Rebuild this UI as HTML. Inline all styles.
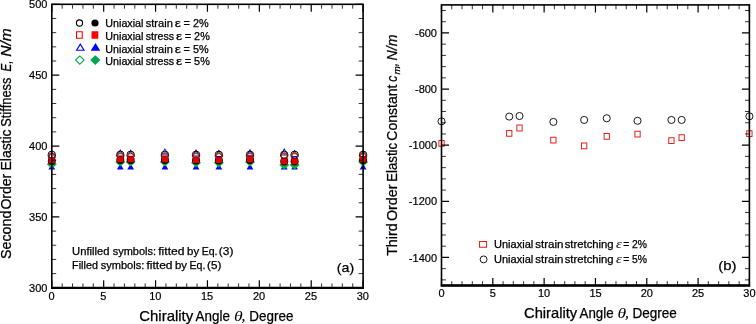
<!DOCTYPE html>
<html><head><meta charset="utf-8"><title>Figure</title>
<style>html,body{margin:0;padding:0;background:#fff}svg{display:block;will-change:transform}</style></head>
<body>
<svg width="756" height="324" viewBox="0 0 756 324" font-family='"Liberation Sans", Arial, sans-serif' fill="#000">
<rect width="756" height="324" fill="#fff"/>
<path d="M51.80 150.70L55.90 158.10L47.70 158.10ZM51.80 152.56L54.37 157.20L49.23 157.20Z" fill="#00f" fill-rule="evenodd"/>
<path d="M51.80 151.50L56.30 156.00L51.80 160.50L47.30 156.00ZM51.80 152.91L54.89 156.00L51.80 159.09L48.71 156.00Z" fill="#00b43c" fill-rule="evenodd"/>
<circle cx="51.80" cy="154.80" r="3.70" fill="none" stroke="#000" stroke-width="1.0"/>
<path d="M48.50 153.30L55.10 153.30L55.10 159.90L48.50 159.90ZM49.40 154.20L54.20 154.20L54.20 159.00L49.40 159.00Z" fill="#f00" fill-rule="evenodd"/>
<path d="M51.80 163.40L55.20 169.60L48.40 169.60Z" fill="#00f"/>
<path d="M51.80 159.60L56.80 164.20L51.80 168.80L46.80 164.20Z" fill="#00b43c"/>
<circle cx="51.80" cy="161.10" r="4.00" fill="#000"/>
<path d="M48.60 157.40L55.00 157.40L55.00 163.40L48.60 163.40Z" fill="#e00000"/>
<path d="M120.29 148.90L124.39 156.30L116.19 156.30ZM120.29 150.76L122.86 155.40L117.71 155.40Z" fill="#00f" fill-rule="evenodd"/>
<path d="M120.29 151.50L124.79 156.00L120.29 160.50L115.79 156.00ZM120.29 152.91L123.37 156.00L120.29 159.09L117.20 156.00Z" fill="#00b43c" fill-rule="evenodd"/>
<circle cx="120.29" cy="154.80" r="3.70" fill="none" stroke="#000" stroke-width="1.0"/>
<path d="M116.99 153.30L123.59 153.30L123.59 159.90L116.99 159.90ZM117.89 154.20L122.69 154.20L122.69 159.00L117.89 159.00Z" fill="#f00" fill-rule="evenodd"/>
<path d="M120.29 163.40L123.69 169.60L116.89 169.60Z" fill="#00f"/>
<path d="M120.29 157.40L125.29 162.00L120.29 166.60L115.29 162.00Z" fill="#00b43c"/>
<circle cx="120.29" cy="160.10" r="4.00" fill="#000"/>
<path d="M117.09 156.40L123.49 156.40L123.49 162.40L117.09 162.40Z" fill="#e00000"/>
<path d="M130.66 149.30L134.76 156.70L126.56 156.70ZM130.66 151.16L133.24 155.80L128.09 155.80Z" fill="#00f" fill-rule="evenodd"/>
<path d="M130.66 151.50L135.16 156.00L130.66 160.50L126.16 156.00ZM130.66 152.91L133.75 156.00L130.66 159.09L127.58 156.00Z" fill="#00b43c" fill-rule="evenodd"/>
<circle cx="130.66" cy="154.80" r="3.70" fill="none" stroke="#000" stroke-width="1.0"/>
<path d="M127.36 153.30L133.96 153.30L133.96 159.90L127.36 159.90ZM128.26 154.20L133.06 154.20L133.06 159.00L128.26 159.00Z" fill="#f00" fill-rule="evenodd"/>
<path d="M130.66 163.40L134.06 169.60L127.26 169.60Z" fill="#00f"/>
<path d="M130.66 157.40L135.66 162.00L130.66 166.60L125.66 162.00Z" fill="#00b43c"/>
<circle cx="130.66" cy="160.10" r="4.00" fill="#000"/>
<path d="M127.46 156.40L133.86 156.40L133.86 162.40L127.46 162.40Z" fill="#e00000"/>
<path d="M164.91 148.00L169.01 155.40L160.81 155.40ZM164.91 149.86L167.48 154.50L162.33 154.50Z" fill="#00f" fill-rule="evenodd"/>
<path d="M164.91 151.50L169.41 156.00L164.91 160.50L160.41 156.00ZM164.91 152.91L167.99 156.00L164.91 159.09L161.82 156.00Z" fill="#00b43c" fill-rule="evenodd"/>
<circle cx="164.91" cy="154.80" r="3.70" fill="none" stroke="#000" stroke-width="1.0"/>
<path d="M161.61 153.30L168.21 153.30L168.21 159.90L161.61 159.90ZM162.51 154.20L167.31 154.20L167.31 159.00L162.51 159.00Z" fill="#f00" fill-rule="evenodd"/>
<path d="M164.91 163.40L168.31 169.60L161.51 169.60Z" fill="#00f"/>
<path d="M164.91 157.40L169.91 162.00L164.91 166.60L159.91 162.00Z" fill="#00b43c"/>
<circle cx="164.91" cy="160.10" r="4.00" fill="#000"/>
<path d="M161.71 156.40L168.11 156.40L168.11 162.40L161.71 162.40Z" fill="#e00000"/>
<path d="M196.04 149.10L200.14 156.50L191.94 156.50ZM196.04 150.96L198.61 155.60L193.46 155.60Z" fill="#00f" fill-rule="evenodd"/>
<path d="M196.04 151.50L200.54 156.00L196.04 160.50L191.54 156.00ZM196.04 152.91L199.12 156.00L196.04 159.09L192.95 156.00Z" fill="#00b43c" fill-rule="evenodd"/>
<circle cx="196.04" cy="154.80" r="3.70" fill="none" stroke="#000" stroke-width="1.0"/>
<path d="M192.74 153.30L199.34 153.30L199.34 159.90L192.74 159.90ZM193.64 154.20L198.44 154.20L198.44 159.00L193.64 159.00Z" fill="#f00" fill-rule="evenodd"/>
<path d="M196.04 163.40L199.44 169.60L192.64 169.60Z" fill="#00f"/>
<path d="M196.04 158.20L201.04 162.80L196.04 167.40L191.04 162.80Z" fill="#00b43c"/>
<circle cx="196.04" cy="160.60" r="4.00" fill="#000"/>
<path d="M192.84 157.20L199.24 157.20L199.24 163.20L192.84 163.20Z" fill="#e00000"/>
<path d="M218.86 149.60L222.96 157.00L214.76 157.00ZM218.86 151.46L221.44 156.10L216.29 156.10Z" fill="#00f" fill-rule="evenodd"/>
<path d="M218.86 151.50L223.36 156.00L218.86 160.50L214.36 156.00ZM218.86 152.91L221.95 156.00L218.86 159.09L215.78 156.00Z" fill="#00b43c" fill-rule="evenodd"/>
<circle cx="218.86" cy="154.80" r="3.70" fill="none" stroke="#000" stroke-width="1.0"/>
<path d="M215.56 153.30L222.16 153.30L222.16 159.90L215.56 159.90ZM216.46 154.20L221.26 154.20L221.26 159.00L216.46 159.00Z" fill="#f00" fill-rule="evenodd"/>
<path d="M218.86 163.40L222.26 169.60L215.46 169.60Z" fill="#00f"/>
<path d="M218.86 158.20L223.86 162.80L218.86 167.40L213.86 162.80Z" fill="#00b43c"/>
<circle cx="218.86" cy="160.60" r="4.00" fill="#000"/>
<path d="M215.66 157.20L222.06 157.20L222.06 163.20L215.66 163.20Z" fill="#e00000"/>
<path d="M249.99 148.80L254.09 156.20L245.89 156.20ZM249.99 150.66L252.57 155.30L247.42 155.30Z" fill="#00f" fill-rule="evenodd"/>
<path d="M249.99 151.50L254.49 156.00L249.99 160.50L245.49 156.00ZM249.99 152.91L253.08 156.00L249.99 159.09L246.91 156.00Z" fill="#00b43c" fill-rule="evenodd"/>
<circle cx="249.99" cy="154.80" r="3.70" fill="none" stroke="#000" stroke-width="1.0"/>
<path d="M246.69 153.30L253.29 153.30L253.29 159.90L246.69 159.90ZM247.59 154.20L252.39 154.20L252.39 159.00L247.59 159.00Z" fill="#f00" fill-rule="evenodd"/>
<path d="M249.99 163.40L253.39 169.60L246.59 169.60Z" fill="#00f"/>
<path d="M249.99 157.40L254.99 162.00L249.99 166.60L244.99 162.00Z" fill="#00b43c"/>
<circle cx="249.99" cy="160.10" r="4.00" fill="#000"/>
<path d="M246.79 156.40L253.19 156.40L253.19 162.40L246.79 162.40Z" fill="#e00000"/>
<path d="M284.24 148.10L288.34 155.50L280.14 155.50ZM284.24 149.96L286.81 154.60L281.66 154.60Z" fill="#00f" fill-rule="evenodd"/>
<path d="M284.24 151.50L288.74 156.00L284.24 160.50L279.74 156.00ZM284.24 152.91L287.32 156.00L284.24 159.09L281.15 156.00Z" fill="#00b43c" fill-rule="evenodd"/>
<circle cx="284.24" cy="154.80" r="3.70" fill="none" stroke="#000" stroke-width="1.0"/>
<path d="M280.94 153.30L287.54 153.30L287.54 159.90L280.94 159.90ZM281.84 154.20L286.64 154.20L286.64 159.00L281.84 159.00Z" fill="#f00" fill-rule="evenodd"/>
<path d="M284.24 163.40L287.64 169.60L280.84 169.60Z" fill="#00f"/>
<path d="M284.24 160.30L289.24 164.90L284.24 169.50L279.24 164.90Z" fill="#00b43c"/>
<circle cx="284.24" cy="161.60" r="4.00" fill="#000"/>
<path d="M281.04 158.40L287.44 158.40L287.44 164.40L281.04 164.40Z" fill="#e00000"/>
<path d="M294.61 149.50L298.71 156.90L290.51 156.90ZM294.61 151.36L297.19 156.00L292.04 156.00Z" fill="#00f" fill-rule="evenodd"/>
<path d="M294.61 151.50L299.11 156.00L294.61 160.50L290.11 156.00ZM294.61 152.91L297.70 156.00L294.61 159.09L291.53 156.00Z" fill="#00b43c" fill-rule="evenodd"/>
<circle cx="294.61" cy="154.80" r="3.70" fill="none" stroke="#000" stroke-width="1.0"/>
<path d="M291.31 153.30L297.91 153.30L297.91 159.90L291.31 159.90ZM292.21 154.20L297.01 154.20L297.01 159.00L292.21 159.00Z" fill="#f00" fill-rule="evenodd"/>
<path d="M294.61 163.40L298.01 169.60L291.21 169.60Z" fill="#00f"/>
<path d="M294.61 160.30L299.61 164.90L294.61 169.50L289.61 164.90Z" fill="#00b43c"/>
<circle cx="294.61" cy="161.60" r="4.00" fill="#000"/>
<path d="M291.41 158.40L297.81 158.40L297.81 164.40L291.41 164.40Z" fill="#e00000"/>
<path d="M363.10 149.50L367.20 156.90L359.00 156.90ZM363.10 151.36L365.67 156.00L360.53 156.00Z" fill="#00f" fill-rule="evenodd"/>
<path d="M363.10 151.50L367.60 156.00L363.10 160.50L358.60 156.00ZM363.10 152.91L366.19 156.00L363.10 159.09L360.01 156.00Z" fill="#00b43c" fill-rule="evenodd"/>
<circle cx="363.10" cy="154.80" r="3.70" fill="none" stroke="#000" stroke-width="1.0"/>
<path d="M359.80 153.30L366.40 153.30L366.40 159.90L359.80 159.90ZM360.70 154.20L365.50 154.20L365.50 159.00L360.70 159.00Z" fill="#f00" fill-rule="evenodd"/>
<path d="M363.10 163.40L366.50 169.60L359.70 169.60Z" fill="#00f"/>
<path d="M363.10 157.40L368.10 162.00L363.10 166.60L358.10 162.00Z" fill="#00b43c"/>
<circle cx="363.10" cy="160.10" r="4.00" fill="#000"/>
<path d="M359.90 156.40L366.30 156.40L366.30 162.40L359.90 162.40Z" fill="#e00000"/>
<path d="M51.80 287.8v-7.5M51.80 4.3v7.5M103.68 287.8v-7.5M103.68 4.3v7.5M155.57 287.8v-7.5M155.57 4.3v7.5M207.45 287.8v-7.5M207.45 4.3v7.5M259.33 287.8v-7.5M259.33 4.3v7.5M311.22 287.8v-7.5M311.22 4.3v7.5M363.10 287.8v-7.5M363.10 4.3v7.5M51.8 287.80h7.5M363.1 287.80h-7.5M51.8 216.93h7.5M363.1 216.93h-7.5M51.8 146.05h7.5M363.1 146.05h-7.5M51.8 75.18h7.5M363.1 75.18h-7.5M51.8 4.30h7.5M363.1 4.30h-7.5" fill="none" stroke="#000" stroke-width="1.2"/>
<path d="M62.18 287.8v-4.4M62.18 4.3v4.4M72.55 287.8v-4.4M72.55 4.3v4.4M82.93 287.8v-4.4M82.93 4.3v4.4M93.31 287.8v-4.4M93.31 4.3v4.4M114.06 287.8v-4.4M114.06 4.3v4.4M124.44 287.8v-4.4M124.44 4.3v4.4M134.81 287.8v-4.4M134.81 4.3v4.4M145.19 287.8v-4.4M145.19 4.3v4.4M165.94 287.8v-4.4M165.94 4.3v4.4M176.32 287.8v-4.4M176.32 4.3v4.4M186.70 287.8v-4.4M186.70 4.3v4.4M197.07 287.8v-4.4M197.07 4.3v4.4M217.83 287.8v-4.4M217.83 4.3v4.4M228.20 287.8v-4.4M228.20 4.3v4.4M238.58 287.8v-4.4M238.58 4.3v4.4M248.96 287.8v-4.4M248.96 4.3v4.4M269.71 287.8v-4.4M269.71 4.3v4.4M280.09 287.8v-4.4M280.09 4.3v4.4M290.46 287.8v-4.4M290.46 4.3v4.4M300.84 287.8v-4.4M300.84 4.3v4.4M321.59 287.8v-4.4M321.59 4.3v4.4M331.97 287.8v-4.4M331.97 4.3v4.4M342.35 287.8v-4.4M342.35 4.3v4.4M352.72 287.8v-4.4M352.72 4.3v4.4M51.8 273.62h4.4M363.1 273.62h-4.4M51.8 259.45h4.4M363.1 259.45h-4.4M51.8 245.28h4.4M363.1 245.28h-4.4M51.8 231.10h4.4M363.1 231.10h-4.4M51.8 202.75h4.4M363.1 202.75h-4.4M51.8 188.58h4.4M363.1 188.58h-4.4M51.8 174.40h4.4M363.1 174.40h-4.4M51.8 160.23h4.4M363.1 160.23h-4.4M51.8 131.88h4.4M363.1 131.88h-4.4M51.8 117.70h4.4M363.1 117.70h-4.4M51.8 103.53h4.4M363.1 103.53h-4.4M51.8 89.35h4.4M363.1 89.35h-4.4M51.8 61.00h4.4M363.1 61.00h-4.4M51.8 46.83h4.4M363.1 46.83h-4.4M51.8 32.65h4.4M363.1 32.65h-4.4M51.8 18.48h4.4M363.1 18.48h-4.4" fill="none" stroke="#000" stroke-width="0.8"/>
<rect x="51.8" y="4.3" width="311.30" height="283.50" fill="none" stroke="#000" stroke-width="1.6"/>
<path d="M51.0 287.8H363.90000000000003" fill="none" stroke="#000" stroke-width="2.2"/>
<text x="51.5" y="300" font-size="11" text-anchor="middle" stroke="#000" stroke-width="0.2">0</text>
<text x="103.4" y="300" font-size="11" text-anchor="middle" stroke="#000" stroke-width="0.2">5</text>
<text x="155.3" y="300" font-size="11" text-anchor="middle" stroke="#000" stroke-width="0.2">10</text>
<text x="207.1" y="300" font-size="11" text-anchor="middle" stroke="#000" stroke-width="0.2">15</text>
<text x="259.0" y="300" font-size="11" text-anchor="middle" stroke="#000" stroke-width="0.2">20</text>
<text x="310.9" y="300" font-size="11" text-anchor="middle" stroke="#000" stroke-width="0.2">25</text>
<text x="362.8" y="300" font-size="11" text-anchor="middle" stroke="#000" stroke-width="0.2">30</text>
<text x="47.4" y="291.9" font-size="11" text-anchor="end" stroke="#000" stroke-width="0.2">300</text>
<text x="47.4" y="221.0" font-size="11" text-anchor="end" stroke="#000" stroke-width="0.2">350</text>
<text x="47.4" y="150.2" font-size="11" text-anchor="end" stroke="#000" stroke-width="0.2">400</text>
<text x="47.4" y="79.3" font-size="11" text-anchor="end" stroke="#000" stroke-width="0.2">450</text>
<text x="47.4" y="8.4" font-size="11" text-anchor="end" stroke="#000" stroke-width="0.2">500</text>
<circle cx="79.50" cy="23.00" r="3.10" fill="none" stroke="#000" stroke-width="1.1"/>
<circle cx="95.00" cy="23.00" r="3.60" fill="#000"/>
<path d="M76.00 31.25L82.80 31.25L82.80 38.75L76.00 38.75ZM77.10 32.35L81.70 32.35L81.70 37.65L77.10 37.65Z" fill="#f00" fill-rule="evenodd"/>
<path d="M91.50 31.25L98.30 31.25L98.30 38.75L91.50 38.75Z" fill="#f00"/>
<path d="M80.30 43.10L85.05 50.80L75.55 50.80ZM80.30 45.20L83.08 49.70L77.52 49.70Z" fill="#00f" fill-rule="evenodd"/>
<path d="M95.50 43.10L100.30 50.80L90.70 50.80Z" fill="#00f"/>
<path d="M79.80 55.15L84.80 60.10L79.80 65.05L74.80 60.10ZM79.80 56.70L83.24 60.10L79.80 63.50L76.36 60.10Z" fill="#00a651" fill-rule="evenodd"/>
<path d="M95.30 55.15L100.40 60.10L95.30 65.05L90.20 60.10Z" fill="#00a651"/>
<text x="105.34" y="27.2" font-size="10.2" textLength="38.08" lengthAdjust="spacingAndGlyphs" stroke="#000" stroke-width="0.25">Uniaxial</text>
<text x="145.67" y="27.2" font-size="10.2" textLength="27.16" lengthAdjust="spacingAndGlyphs" stroke="#000" stroke-width="0.25">strain</text>
<text x="174.78" y="27.2" font-size="10.8" textLength="6.17" lengthAdjust="spacingAndGlyphs" stroke="#000" stroke-width="0.25">ε</text>
<text x="183.56" y="27.2" font-size="10.2" textLength="25.05" lengthAdjust="spacingAndGlyphs" stroke="#000" stroke-width="0.25">= 2%</text>
<text x="105.34" y="39.8" font-size="10.2" textLength="38.08" lengthAdjust="spacingAndGlyphs" stroke="#000" stroke-width="0.25">Uniaxial</text>
<text x="145.68" y="39.8" font-size="10.2" textLength="28.37" lengthAdjust="spacingAndGlyphs" stroke="#000" stroke-width="0.25">stress</text>
<text x="175.98" y="39.8" font-size="10.8" textLength="6.17" lengthAdjust="spacingAndGlyphs" stroke="#000" stroke-width="0.25">ε</text>
<text x="184.76" y="39.8" font-size="10.2" textLength="25.05" lengthAdjust="spacingAndGlyphs" stroke="#000" stroke-width="0.25">= 2%</text>
<text x="105.34" y="52.6" font-size="10.2" textLength="38.08" lengthAdjust="spacingAndGlyphs" stroke="#000" stroke-width="0.25">Uniaxial</text>
<text x="145.67" y="52.6" font-size="10.2" textLength="27.16" lengthAdjust="spacingAndGlyphs" stroke="#000" stroke-width="0.25">strain</text>
<text x="174.78" y="52.6" font-size="10.8" textLength="6.17" lengthAdjust="spacingAndGlyphs" stroke="#000" stroke-width="0.25">ε</text>
<text x="183.56" y="52.6" font-size="10.2" textLength="25.05" lengthAdjust="spacingAndGlyphs" stroke="#000" stroke-width="0.25">= 5%</text>
<text x="105.34" y="65.1" font-size="10.2" textLength="38.08" lengthAdjust="spacingAndGlyphs" stroke="#000" stroke-width="0.25">Uniaxial</text>
<text x="145.68" y="65.1" font-size="10.2" textLength="28.37" lengthAdjust="spacingAndGlyphs" stroke="#000" stroke-width="0.25">stress</text>
<text x="175.98" y="65.1" font-size="10.8" textLength="6.17" lengthAdjust="spacingAndGlyphs" stroke="#000" stroke-width="0.25">ε</text>
<text x="184.76" y="65.1" font-size="10.2" textLength="25.05" lengthAdjust="spacingAndGlyphs" stroke="#000" stroke-width="0.25">= 5%</text>
<text x="72.10" y="254.8" font-size="10.2" textLength="37.32" lengthAdjust="spacingAndGlyphs" stroke="#000" stroke-width="0.25">Unfilled</text>
<text x="112.67" y="254.8" font-size="10.2" textLength="43.48" lengthAdjust="spacingAndGlyphs" stroke="#000" stroke-width="0.25">symbols:</text>
<text x="158.28" y="254.8" font-size="10.2" textLength="26.14" lengthAdjust="spacingAndGlyphs" stroke="#000" stroke-width="0.25">fitted</text>
<text x="187.10" y="254.8" font-size="10.2" textLength="12.07" lengthAdjust="spacingAndGlyphs" stroke="#000" stroke-width="0.25">by</text>
<text x="201.66" y="254.8" font-size="10.2" textLength="15.80" lengthAdjust="spacingAndGlyphs" stroke="#000" stroke-width="0.25">Eq.</text>
<text x="218.89" y="254.8" font-size="10.2" textLength="14.56" lengthAdjust="spacingAndGlyphs" stroke="#000" stroke-width="0.25">(3)</text>
<text x="72.14" y="269.2" font-size="10.2" textLength="25.82" lengthAdjust="spacingAndGlyphs" stroke="#000" stroke-width="0.25">Filled</text>
<text x="100.67" y="269.2" font-size="10.2" textLength="43.64" lengthAdjust="spacingAndGlyphs" stroke="#000" stroke-width="0.25">symbols:</text>
<text x="146.48" y="269.2" font-size="10.2" textLength="26.04" lengthAdjust="spacingAndGlyphs" stroke="#000" stroke-width="0.25">fitted</text>
<text x="175.00" y="269.2" font-size="10.2" textLength="12.07" lengthAdjust="spacingAndGlyphs" stroke="#000" stroke-width="0.25">by</text>
<text x="189.55" y="269.2" font-size="10.2" textLength="15.91" lengthAdjust="spacingAndGlyphs" stroke="#000" stroke-width="0.25">Eq.</text>
<text x="207.10" y="269.2" font-size="10.2" textLength="14.22" lengthAdjust="spacingAndGlyphs" stroke="#000" stroke-width="0.25">(5)</text>
<text x="336.85" y="272.2" font-size="13.2" textLength="17.33" lengthAdjust="spacingAndGlyphs" stroke="#000" stroke-width="0.25">(a)</text>
<text x="139.25" y="320.6" font-size="13.9" textLength="53.98" lengthAdjust="spacingAndGlyphs" stroke="#000" stroke-width="0.25">Chirality</text>
<text x="195.60" y="320.6" font-size="13.9" textLength="34.29" lengthAdjust="spacingAndGlyphs" stroke="#000" stroke-width="0.25">Angle</text>
<text x="233.96" y="320.8" font-size="13.6" textLength="8.71" lengthAdjust="spacingAndGlyphs" font-family='"Liberation Serif", "DejaVu Serif", serif' font-style="italic">θ</text>
<text x="241.79" y="320.6" font-size="14" textLength="3.44" lengthAdjust="spacingAndGlyphs" font-family='"Liberation Serif", "DejaVu Serif", serif' font-style="italic" stroke="#000" stroke-width="0.25">,</text>
<text x="249.33" y="320.6" font-size="13.9" textLength="44.04" lengthAdjust="spacingAndGlyphs" stroke="#000" stroke-width="0.25">Degree</text>
<g transform="translate(11.3 0) rotate(-90)">
<text x="-259.01" y="0" font-size="13.9" textLength="48.39" lengthAdjust="spacingAndGlyphs" stroke="#000" stroke-width="0.25">Second</text>
<text x="-209.60" y="0" font-size="13.9" textLength="35.83" lengthAdjust="spacingAndGlyphs" stroke="#000" stroke-width="0.25">Order</text>
<text x="-170.52" y="0" font-size="13.9" textLength="41.07" lengthAdjust="spacingAndGlyphs" stroke="#000" stroke-width="0.25">Elastic</text>
<text x="-126.74" y="0" font-size="13.9" textLength="49.22" lengthAdjust="spacingAndGlyphs" stroke="#000" stroke-width="0.25">Stiffness</text>
<text x="-71.55" y="0" font-size="13.9" textLength="10.87" lengthAdjust="spacingAndGlyphs" font-style="italic" stroke="#000" stroke-width="0.25">E,</text>
<text x="-56.77" y="0" font-size="13.9" textLength="28.54" lengthAdjust="spacingAndGlyphs" font-style="italic" stroke="#000" stroke-width="0.25">N/m</text>
</g>
<path d="M438.35 140.04L444.65 140.04L444.65 146.84L438.35 146.84ZM439.35 141.04L443.65 141.04L443.65 145.84L439.35 145.84Z" fill="#e8201a" fill-rule="evenodd"/>
<path d="M506.09 129.93L512.39 129.93L512.39 136.73L506.09 136.73ZM507.09 130.93L511.39 130.93L511.39 135.73L507.09 135.73Z" fill="#e8201a" fill-rule="evenodd"/>
<path d="M516.35 124.60L522.65 124.60L522.65 131.40L516.35 131.40ZM517.35 125.60L521.65 125.60L521.65 130.40L517.35 130.40Z" fill="#e8201a" fill-rule="evenodd"/>
<path d="M550.22 136.67L556.52 136.67L556.52 143.47L550.22 143.47ZM551.22 137.67L555.52 137.67L555.52 142.47L551.22 142.47Z" fill="#e8201a" fill-rule="evenodd"/>
<path d="M581.01 142.56L587.31 142.56L587.31 149.36L581.01 149.36ZM582.01 143.56L586.31 143.56L586.31 148.36L582.01 148.36Z" fill="#e8201a" fill-rule="evenodd"/>
<path d="M603.59 133.02L609.89 133.02L609.89 139.82L603.59 139.82ZM604.59 134.02L608.89 134.02L608.89 138.82L604.59 138.82Z" fill="#e8201a" fill-rule="evenodd"/>
<path d="M634.38 130.78L640.68 130.78L640.68 137.58L634.38 137.58ZM635.38 131.78L639.68 131.78L639.68 136.58L635.38 136.58Z" fill="#e8201a" fill-rule="evenodd"/>
<path d="M668.25 137.23L674.55 137.23L674.55 144.03L668.25 144.03ZM669.25 138.23L673.55 138.23L673.55 143.03L669.25 143.03Z" fill="#e8201a" fill-rule="evenodd"/>
<path d="M678.51 134.14L684.81 134.14L684.81 140.94L678.51 140.94ZM679.51 135.14L683.81 135.14L683.81 139.94L679.51 139.94Z" fill="#e8201a" fill-rule="evenodd"/>
<path d="M746.25 130.21L752.55 130.21L752.55 137.01L746.25 137.01ZM747.25 131.21L751.55 131.21L751.55 136.01L747.25 136.01Z" fill="#e8201a" fill-rule="evenodd"/>
<circle cx="441.50" cy="121.35" r="3.55" fill="none" stroke="#000" stroke-width="0.9"/>
<circle cx="509.24" cy="116.58" r="3.55" fill="none" stroke="#000" stroke-width="0.9"/>
<circle cx="519.50" cy="116.02" r="3.55" fill="none" stroke="#000" stroke-width="0.9"/>
<circle cx="553.37" cy="121.91" r="3.55" fill="none" stroke="#000" stroke-width="0.9"/>
<circle cx="584.16" cy="119.95" r="3.55" fill="none" stroke="#000" stroke-width="0.9"/>
<circle cx="606.74" cy="118.26" r="3.55" fill="none" stroke="#000" stroke-width="0.9"/>
<circle cx="637.53" cy="120.79" r="3.55" fill="none" stroke="#000" stroke-width="0.9"/>
<circle cx="671.40" cy="119.95" r="3.55" fill="none" stroke="#000" stroke-width="0.9"/>
<circle cx="681.66" cy="119.95" r="3.55" fill="none" stroke="#000" stroke-width="0.9"/>
<circle cx="749.40" cy="116.30" r="3.55" fill="none" stroke="#000" stroke-width="0.9"/>
<path d="M441.50 285.5v-7.5M441.50 4.9v7.5M492.82 285.5v-7.5M492.82 4.9v7.5M544.13 285.5v-7.5M544.13 4.9v7.5M595.45 285.5v-7.5M595.45 4.9v7.5M646.77 285.5v-7.5M646.77 4.9v7.5M698.08 285.5v-7.5M698.08 4.9v7.5M749.40 285.5v-7.5M749.40 4.9v7.5M441.5 257.44h7.5M749.4 257.44h-7.5M441.5 201.32h7.5M749.4 201.32h-7.5M441.5 145.20h7.5M749.4 145.20h-7.5M441.5 89.08h7.5M749.4 89.08h-7.5M441.5 32.96h7.5M749.4 32.96h-7.5" fill="none" stroke="#000" stroke-width="1.2"/>
<path d="M451.76 285.5v-4.4M451.76 4.9v4.4M462.03 285.5v-4.4M462.03 4.9v4.4M472.29 285.5v-4.4M472.29 4.9v4.4M482.55 285.5v-4.4M482.55 4.9v4.4M503.08 285.5v-4.4M503.08 4.9v4.4M513.34 285.5v-4.4M513.34 4.9v4.4M523.61 285.5v-4.4M523.61 4.9v4.4M533.87 285.5v-4.4M533.87 4.9v4.4M554.40 285.5v-4.4M554.40 4.9v4.4M564.66 285.5v-4.4M564.66 4.9v4.4M574.92 285.5v-4.4M574.92 4.9v4.4M585.19 285.5v-4.4M585.19 4.9v4.4M605.71 285.5v-4.4M605.71 4.9v4.4M615.98 285.5v-4.4M615.98 4.9v4.4M626.24 285.5v-4.4M626.24 4.9v4.4M636.50 285.5v-4.4M636.50 4.9v4.4M657.03 285.5v-4.4M657.03 4.9v4.4M667.29 285.5v-4.4M667.29 4.9v4.4M677.56 285.5v-4.4M677.56 4.9v4.4M687.82 285.5v-4.4M687.82 4.9v4.4M708.35 285.5v-4.4M708.35 4.9v4.4M718.61 285.5v-4.4M718.61 4.9v4.4M728.87 285.5v-4.4M728.87 4.9v4.4M739.14 285.5v-4.4M739.14 4.9v4.4M441.5 279.89h4.4M749.4 279.89h-4.4M441.5 268.66h4.4M749.4 268.66h-4.4M441.5 246.22h4.4M749.4 246.22h-4.4M441.5 234.99h4.4M749.4 234.99h-4.4M441.5 223.77h4.4M749.4 223.77h-4.4M441.5 212.54h4.4M749.4 212.54h-4.4M441.5 190.10h4.4M749.4 190.10h-4.4M441.5 178.87h4.4M749.4 178.87h-4.4M441.5 167.65h4.4M749.4 167.65h-4.4M441.5 156.42h4.4M749.4 156.42h-4.4M441.5 133.98h4.4M749.4 133.98h-4.4M441.5 122.75h4.4M749.4 122.75h-4.4M441.5 111.53h4.4M749.4 111.53h-4.4M441.5 100.30h4.4M749.4 100.30h-4.4M441.5 77.86h4.4M749.4 77.86h-4.4M441.5 66.63h4.4M749.4 66.63h-4.4M441.5 55.41h4.4M749.4 55.41h-4.4M441.5 44.18h4.4M749.4 44.18h-4.4M441.5 21.74h4.4M749.4 21.74h-4.4M441.5 10.51h4.4M749.4 10.51h-4.4" fill="none" stroke="#000" stroke-width="0.8"/>
<rect x="441.5" y="4.9" width="307.90" height="280.60" fill="none" stroke="#000" stroke-width="1.6"/>
<path d="M440.7 285.5H750.1999999999999" fill="none" stroke="#000" stroke-width="2.4"/>
<text x="441.5" y="297.3" font-size="11" text-anchor="middle" stroke="#000" stroke-width="0.2">0</text>
<text x="492.8" y="297.3" font-size="11" text-anchor="middle" stroke="#000" stroke-width="0.2">5</text>
<text x="544.1" y="297.3" font-size="11" text-anchor="middle" stroke="#000" stroke-width="0.2">10</text>
<text x="595.5" y="297.3" font-size="11" text-anchor="middle" stroke="#000" stroke-width="0.2">15</text>
<text x="646.8" y="297.3" font-size="11" text-anchor="middle" stroke="#000" stroke-width="0.2">20</text>
<text x="698.1" y="297.3" font-size="11" text-anchor="middle" stroke="#000" stroke-width="0.2">25</text>
<text x="749.4" y="297.3" font-size="11" text-anchor="middle" stroke="#000" stroke-width="0.2">30</text>
<text x="437" y="261.5" font-size="11" text-anchor="end" stroke="#000" stroke-width="0.2">-1400</text>
<text x="437" y="205.4" font-size="11" text-anchor="end" stroke="#000" stroke-width="0.2">-1200</text>
<text x="437" y="149.3" font-size="11" text-anchor="end" stroke="#000" stroke-width="0.2">-1000</text>
<text x="437" y="93.2" font-size="11" text-anchor="end" stroke="#000" stroke-width="0.2">-800</text>
<text x="437" y="37.1" font-size="11" text-anchor="end" stroke="#000" stroke-width="0.2">-600</text>
<path d="M479.05 241.00L487.05 241.00L487.05 247.80L479.05 247.80ZM480.05 242.00L486.05 242.00L486.05 246.80L480.05 246.80Z" fill="#e8201a" fill-rule="evenodd"/>
<circle cx="483.60" cy="259.40" r="3.45" fill="none" stroke="#000" stroke-width="0.9"/>
<text x="494.02" y="248.4" font-size="10.2" textLength="39.22" lengthAdjust="spacingAndGlyphs" stroke="#000" stroke-width="0.25">Uniaxial</text>
<text x="535.25" y="248.4" font-size="10.2" textLength="28.20" lengthAdjust="spacingAndGlyphs" stroke="#000" stroke-width="0.25">strain</text>
<text x="564.66" y="248.4" font-size="10.2" textLength="48.98" lengthAdjust="spacingAndGlyphs" stroke="#000" stroke-width="0.25">stretching</text>
<text x="615.90" y="248.4" font-size="12" textLength="5.86" lengthAdjust="spacingAndGlyphs" font-family='"Liberation Serif", "DejaVu Serif", serif' font-style="italic">ε</text>
<text x="623.18" y="248.4" font-size="10.2" textLength="23.90" lengthAdjust="spacingAndGlyphs" stroke="#000" stroke-width="0.25">= 2%</text>
<text x="494.02" y="262.9" font-size="10.2" textLength="39.22" lengthAdjust="spacingAndGlyphs" stroke="#000" stroke-width="0.25">Uniaxial</text>
<text x="535.25" y="262.9" font-size="10.2" textLength="28.20" lengthAdjust="spacingAndGlyphs" stroke="#000" stroke-width="0.25">strain</text>
<text x="564.66" y="262.9" font-size="10.2" textLength="48.98" lengthAdjust="spacingAndGlyphs" stroke="#000" stroke-width="0.25">stretching</text>
<text x="615.90" y="262.9" font-size="12" textLength="5.86" lengthAdjust="spacingAndGlyphs" font-family='"Liberation Serif", "DejaVu Serif", serif' font-style="italic">ε</text>
<text x="623.18" y="262.9" font-size="10.2" textLength="23.90" lengthAdjust="spacingAndGlyphs" stroke="#000" stroke-width="0.25">= 5%</text>
<text x="718.21" y="269.75" font-size="13.2" textLength="18.22" lengthAdjust="spacingAndGlyphs" stroke="#000" stroke-width="0.25">(b)</text>
<text x="524.07" y="317.9" font-size="13.9" textLength="53.06" lengthAdjust="spacingAndGlyphs" stroke="#000" stroke-width="0.25">Chirality</text>
<text x="579.60" y="317.9" font-size="13.9" textLength="34.03" lengthAdjust="spacingAndGlyphs" stroke="#000" stroke-width="0.25">Angle</text>
<text x="617.52" y="318.1" font-size="13.6" textLength="8.66" lengthAdjust="spacingAndGlyphs" font-family='"Liberation Serif", "DejaVu Serif", serif' font-style="italic">θ</text>
<text x="625.29" y="317.9" font-size="14" textLength="3.44" lengthAdjust="spacingAndGlyphs" font-family='"Liberation Serif", "DejaVu Serif", serif' font-style="italic" stroke="#000" stroke-width="0.25">,</text>
<text x="632.42" y="317.9" font-size="13.9" textLength="44.36" lengthAdjust="spacingAndGlyphs" stroke="#000" stroke-width="0.25">Degree</text>
<g transform="translate(397.4 0) rotate(-90)">
<text x="-255.88" y="0" font-size="13.9" textLength="32.46" lengthAdjust="spacingAndGlyphs" stroke="#000" stroke-width="0.25">Third</text>
<text x="-221.11" y="0" font-size="13.9" textLength="36.55" lengthAdjust="spacingAndGlyphs" stroke="#000" stroke-width="0.25">Order</text>
<text x="-181.65" y="0" font-size="13.9" textLength="38.68" lengthAdjust="spacingAndGlyphs" stroke="#000" stroke-width="0.25">Elastic</text>
<text x="-140.70" y="0" font-size="13.9" textLength="56.04" lengthAdjust="spacingAndGlyphs" stroke="#000" stroke-width="0.25">Constant</text>
<text x="-81.87" y="0" font-size="13.9" textLength="6.09" lengthAdjust="spacingAndGlyphs" font-style="italic" stroke="#000" stroke-width="0.25">c</text>
<text x="-74.60" y="2.5" font-size="9.5" textLength="8.33" lengthAdjust="spacingAndGlyphs" font-style="italic" stroke="#000" stroke-width="0.25">m</text>
<text x="-66.13" y="0" font-size="13.9" textLength="3.18" lengthAdjust="spacingAndGlyphs" font-style="italic" stroke="#000" stroke-width="0.25">,</text>
<text x="-60.42" y="0" font-size="13.9" textLength="25.83" lengthAdjust="spacingAndGlyphs" font-style="italic" stroke="#000" stroke-width="0.25">N/m</text>
</g>
</svg>
</body></html>
